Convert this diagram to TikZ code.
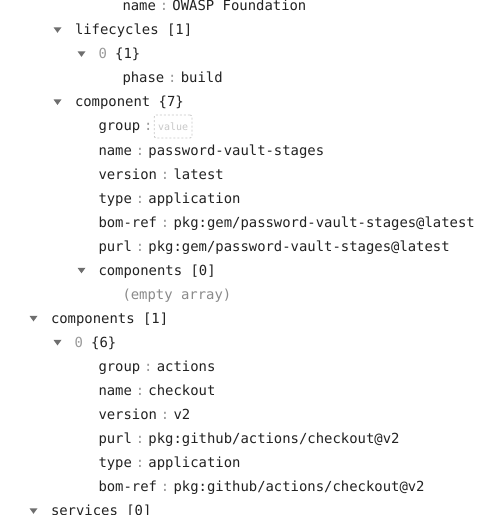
\documentclass[tikz,border=0pt]{standalone}
\usepackage{fontspec}
\setmonofont{DejaVu Sans Mono}
\definecolor{txt}{HTML}{222222}
\definecolor{idxc}{HTML}{9A9A9A}
\definecolor{sepc}{HTML}{9A9A9A}
\definecolor{emptyc}{HTML}{8A8A8A}
\definecolor{tric}{HTML}{6E6E6E}
\definecolor{phc}{HTML}{C8C8C8}
\newcommand\kvrow[5]{%
  \node[keyst] (#1k) at (#2,-#3) {#4};
  \node[sepst] (#1c) at ([xshift=8]#1k.base east) {:};
  \node[valst] (#1v) at ([xshift=16.5]#1k.base east) {#5};
}
\newcommand\trirow[3]{%
  \coordinate (#1) at (#2,-#3);
  \fill[tric] ([shift={(-4,7.5)}]#1) -- ([shift={(4,7.5)}]#1) -- ([shift={(0,2)}]#1) -- cycle;
}
\begin{document}
\begin{tikzpicture}[x=1pt,y=1pt,
  mono/.style={inner sep=0pt, outer sep=0pt, font=\fontsize{13.9}{16}\selectfont\ttfamily},
  keyst/.style={mono, anchor=base west, text=txt},
  valst/.style={mono, anchor=base west, text=txt},
  sepst/.style={mono, anchor=base, text=sepc},
  headst/.style={mono, anchor=base west, text=txt},
  emptyst/.style={mono, anchor=base west, text=emptyc},
  phst/.style={draw=phc, dashed, dash pattern=on 2pt off 2pt, rounded corners=2pt,
    inner xsep=3.8pt, inner ysep=0pt, minimum height=23pt, anchor=west, text=phc,
    font=\fontsize{10}{12}\selectfont\ttfamily, line width=0.8pt}
]
\useasboundingbox (0,0) rectangle (503,-515);
\fill[white] (0,0) rectangle (503,-515);

% row 0
\kvrow{r0}{122.5}{10.7}{name}{OWASP Foundation}
% row 1
\trirow{t1}{57.5}{34.75}
\node[headst] (h1) at (75,-34.75) {lifecycles [1]};
% row 2
\trirow{t2}{81.5}{58.8}
\node[headst] (h2) at (98.5,-58.8) {\textcolor{idxc}{0} \{1\}};
% row 3
\kvrow{r3}{122.5}{82.85}{phase}{build}
% row 4
\trirow{t4}{57.5}{106.9}
\node[headst] (h4) at (75,-106.9) {component \{7\}};
% row 5
\node[keyst] (r5k) at (98.5,-130.95) {group};
\node[sepst] (r5c) at ([xshift=8]r5k.base east) {:};
\node[phst] (r5v) at ([xshift=13.5,yshift=4.5]r5k.base east) {value};
% rows 6-10
\kvrow{r6}{98.5}{155.0}{name}{password-vault-stages}
\kvrow{r7}{98.5}{179.05}{version}{latest}
\kvrow{r8}{98.5}{203.1}{type}{application}
\kvrow{r9}{98.5}{227.15}{bom-ref}{pkg:gem/password-vault-stages@latest}
\kvrow{r10}{98.5}{251.2}{purl}{pkg:gem/password-vault-stages@latest}
% row 11
\trirow{t11}{81.5}{275.25}
\node[headst] (h11) at (98.5,-275.25) {components [0]};
% row 12
\node[emptyst] (e12) at (122.5,-299.3) {(empty array)};
% row 13
\trirow{t13}{33.5}{323.35}
\node[headst] (h13) at (51,-323.35) {components [1]};
% row 14
\trirow{t14}{57.5}{347.4}
\node[headst] (h14) at (74.5,-347.4) {\textcolor{idxc}{0} \{6\}};
% rows 15-20
\kvrow{r15}{98.5}{371.45}{group}{actions}
\kvrow{r16}{98.5}{395.5}{name}{checkout}
\kvrow{r17}{98.5}{419.55}{version}{v2}
\kvrow{r18}{98.5}{443.6}{purl}{pkg:github/actions/checkout@v2}
\kvrow{r19}{98.5}{467.65}{type}{application}
\kvrow{r20}{98.5}{491.7}{bom-ref}{pkg:github/actions/checkout@v2}
% row 21
\trirow{t21}{33.5}{515.75}
\node[headst] (h21) at (51,-515.75) {services [0]};
\end{tikzpicture}
\end{document}
